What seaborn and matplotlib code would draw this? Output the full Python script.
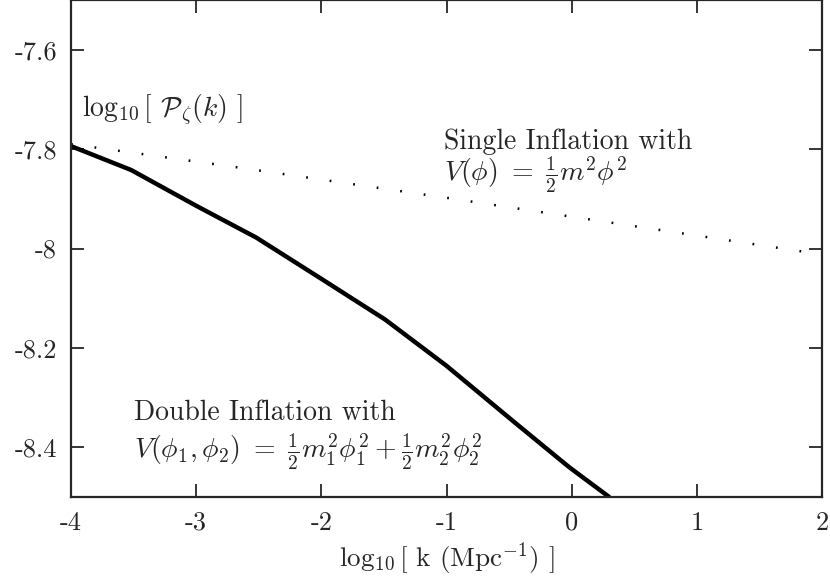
import matplotlib
matplotlib.use("Agg")
import matplotlib.pyplot as plt
import seaborn as sns
import pandas as pd

# curves
log_k_double = [-4.0, -3.52, -3.0, -2.52, -2.0, -1.49, -1.0, -0.46, -0.02, 0.3]
log_p_double = [-7.794, -7.842, -7.914, -7.978, -8.061, -8.143, -8.236, -8.349, -8.44, -8.5]

log_k_single = [-4.0, -2.69, -1.0, 2.0]
log_p_single = [-7.79, -7.836, -7.898, -8.012]

x_ticks = [-4, -3, -2, -1, 0, 1, 2]
y_ticks = [-8.4, -8.2, -8.0, -7.8, -7.6]
y_tick_labels = ["-8.4", "-8.2", "-8", "-7.8", "-7.6"]

sns.set_theme(style="ticks")
plt.rcParams["font.family"] = "serif"
plt.rcParams["font.serif"] = ["cmr10", "DejaVu Serif"]
plt.rcParams["mathtext.fontset"] = "cm"
plt.rcParams["axes.unicode_minus"] = False
plt.rcParams["axes.formatter.use_mathtext"] = True

df_double = pd.DataFrame({"k": log_k_double, "P": log_p_double})
df_single = pd.DataFrame({"k": log_k_single, "P": log_p_single})

fig = plt.figure(figsize=(8.3, 5.79), dpi=100)
ax = fig.add_axes([71 / 830, 1 - 497 / 579, (822 - 71) / 830, 497 / 579])

sns.lineplot(data=df_double, x="k", y="P", ax=ax, color="black", linewidth=3.2,
             sort=False, estimator=None)
sns.lineplot(data=df_single, x="k", y="P", ax=ax, color="black", linewidth=1.8,
             sort=False, estimator=None, dashes=False, linestyle=(0, (0.7, 8.8)))

ax.set_xlim(-4, 2)
ax.set_ylim(-8.5, -7.5)
ax.set_xticks(x_ticks)
ax.set_xticklabels([str(t) for t in x_ticks])
ax.set_yticks(y_ticks)
ax.set_yticklabels(y_tick_labels)
ax.tick_params(direction="in", length=9.5, width=1.3, labelsize=19,
               top=True, right=True, pad=10)
for s in ax.spines.values():
    s.set_linewidth(1.6)

ax.set_xlabel(r"$\log_{10}$[ k (Mpc$^{-1}$) ]", fontsize=19.5, labelpad=4)
ax.set_ylabel("")

fs = 20
ax.text(-3.91, -7.72, r"$\log_{10}$[ $\mathcal{P}_\zeta(k)$ ]", fontsize=fs, va="center")
ax.text(-1.02, -7.785, "Single Inflation with", fontsize=fs, va="center")
ax.text(-1.02, -7.852, r"$V(\phi)\ =\ \frac{1}{2}m^2\phi^2$", fontsize=fs, va="center")
ax.text(-3.5, -8.33, "Double Inflation with", fontsize=fs, va="center")
ax.text(-3.5, -8.408,
        r"$V(\phi_1,\phi_2)\ =\ \frac{1}{2}m_1^2\phi_1^2+\frac{1}{2}m_2^2\phi_2^2$",
        fontsize=fs, va="center")

fig.savefig("out.png", dpi=100)
